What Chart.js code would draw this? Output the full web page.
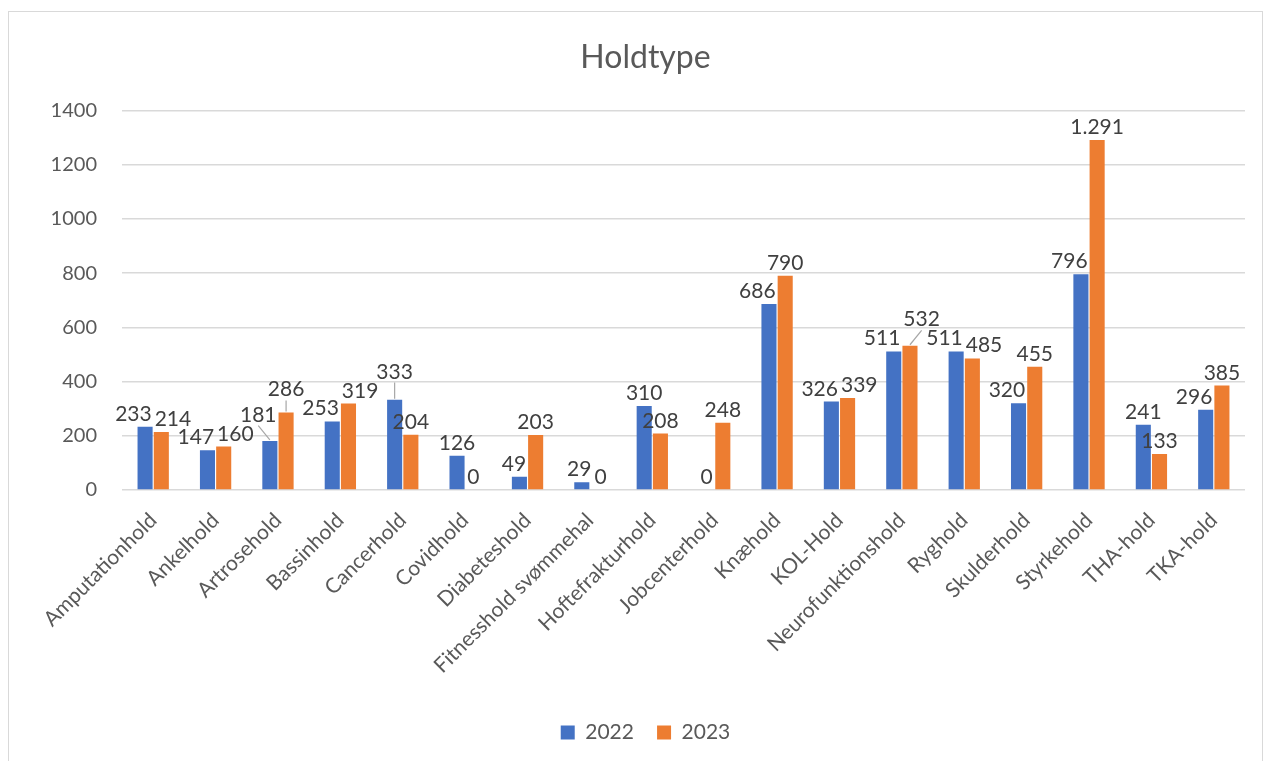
<!DOCTYPE html>
<html><head><meta charset="utf-8">
<script src="https://cdn.jsdelivr.net/npm/chart.js@4.4.1/dist/chart.umd.min.js"></script>
<style>
html,body{margin:0;padding:0;background:#fff;overflow:hidden;width:1263px;height:761px;}
#frame{position:absolute;left:8px;top:11px;width:1255px;height:800px;border:1px solid #d9d9d9;box-sizing:border-box;}
canvas{position:absolute;left:0;top:0;}
</style></head><body>
<div id="frame"></div>
<canvas id="c" width="1263" height="761"></canvas>
<script>
const categories = ['Amputationhold','Ankelhold','Artrosehold','Bassinhold','Cancerhold','Covidhold','Diabeteshold','Fitnesshold svømmehal','Hoftefrakturhold','Jobcenterhold','Knæhold','KOL-Hold','Neurofunktionshold','Ryghold','Skulderhold','Styrkehold','THA-hold','TKA-hold'];
const values2022 = [233,147,181,253,333,126,49,29,310,0,686,326,511,511,320,796,241,296];
const values2023 = [214,160,286,319,204,0,203,0,208,248,790,339,532,485,455,1291,133,385];
const seriesNames = ['2022','2023'];
const yTicks = [0,200,400,600,800,1000,1200,1400];
const titleText = 'Holdtype';

const FONT = 'Lato';
function fmt(n){ return String(n).replace(/\B(?=(\d{3})+(?!\d))/g,'.'); }

const labelPlugin = {
  id:'barLabels',
  afterDatasetsDraw(chart){
    const ctx = chart.ctx;
    ctx.save();
    ctx.font = '21px ' + FONT;
    ctx.textAlign = 'center';
    ctx.textBaseline = 'alphabetic';
    const m0 = chart.getDatasetMeta(0), m1 = chart.getDatasetMeta(1);
    const h = 21;
    const labels = [];
    for (let i=0;i<categories.length;i++){
      const b0 = m0.data[i], b1 = m1.data[i];
      const t0 = fmt(values2022[i]), t1 = fmt(values2023[i]);
      const w0 = ctx.measureText(t0).width, w1 = ctx.measureText(t1).width;
      let x0 = b0.x, x1 = b1.x;
      const y0 = b0.y - 6, y1 = b1.y - 6;
      if (Math.abs(y0-y1) < h){
        const need = (w0+w1)/2 + 3 - (x1-x0);
        if (need > 0){ x0 -= need/2; x1 += need/2; }
      } else if (y0 > y1) {
        const edge = b1.x - b1.width/2 - 2;
        if (x0 + w0/2 > edge) x0 = edge - w0/2;
      }
      labels.push({t:t0,x:x0,y:y0,w:w0,v:values2022[i],bx:b0.x,by:b0.y,y00:y0});
      labels.push({t:t1,x:x1,y:y1,w:w1,v:values2023[i],bx:b1.x,by:b1.y,y00:y1});
    }
    // resolve collisions: raise the label of the taller bar
    const ov = (a,b) => (a.x - a.w/2 < b.x + b.w/2 + 1) && (b.x - b.w/2 < a.x + a.w/2 + 1) &&
                        (a.y - 16 < b.y + 1) && (b.y - 16 < a.y + 1);
    for (let pass=0; pass<10; pass++){
      let moved = false;
      for (let i=0;i<labels.length;i++) for (let j=i+1;j<labels.length;j++){
        const a = labels[i], b = labels[j];
        if (ov(a,b)){
          const up = (b.v >= a.v) ? b : a, lo = (up === a) ? b : a;
          up.y = lo.y - 19; moved = true;
        }
      }
      if (!moved) break;
    }
    labels.forEach(l=>{
      if (l.y00 - l.y > 8){
        ctx.strokeStyle = '#a6a6a6'; ctx.lineWidth = 1.2;
        ctx.beginPath(); ctx.moveTo(l.x, l.y + 4); ctx.lineTo(l.bx, l.by - 1); ctx.stroke();
      }
    });
    ctx.fillStyle = '#404040';
    labels.forEach(l=>ctx.fillText(l.t, l.x, l.y));
    ctx.restore();
  }
};

const chart = new Chart(document.getElementById('c'), {
  type:'bar',
  data:{
    labels: categories,
    datasets:[
      {label: seriesNames[0], data: values2022, backgroundColor:'#4472C4', borderWidth:0},
      {label: seriesNames[1], data: values2023, backgroundColor:'#ED7D31', borderWidth:0}
    ]
  },
  options:{
    responsive:false,
    animation:false,
    layout:{padding:{left:46,right:18,top:0,bottom:8}},
    datasets:{bar:{barPercentage:0.93, categoryPercentage:0.52}},
    scales:{
      x:{
        grid:{display:false},
        border:{display:false},
        ticks:{font:{family:FONT,size:21},color:'#595959',maxRotation:45,minRotation:45,autoSkip:false,padding:10,labelOffset:0},
        afterFit(s){ s.height = 222; }
      },
      y:{
        min:0,max:1400,
        afterBuildTicks(s){ s.ticks = yTicks.map(v=>({value:v})); },
        grid:{color:'#d9d9d9',lineWidth:1.5,drawTicks:false},
        border:{display:false},
        ticks:{font:{family:FONT,size:20},color:'#595959',padding:25,callback:v=>String(v)},
        afterFit(s){ s.width = 76; }
      }
    },
    plugins:{
      title:{display:true,text:titleText,color:'#595959',font:{family:FONT,size:32,weight:'normal'},padding:{top:38,bottom:34}},
      legend:{
        position:'bottom',
        labels:{
          font:{family:FONT,size:21},color:'#595959',boxWidth:14,boxHeight:14,padding:10,
          generateLabels(c){
            const items = Chart.defaults.plugins.legend.labels.generateLabels(c);
            items.forEach((it,i)=>{ it.lineWidth=0; if(i===0) it.text = it.text + '\u2002\u2009'; });
            return items;
          }
        }
      },
      tooltip:{enabled:false}
    }
  },
  plugins:[labelPlugin]
});
</script>
</body></html>
